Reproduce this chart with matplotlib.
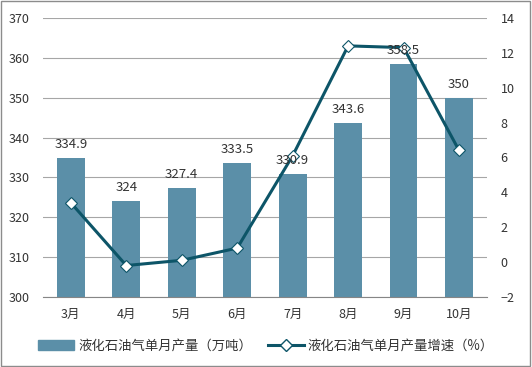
import matplotlib
matplotlib.use('Agg')
import matplotlib.pyplot as plt
import matplotlib.patches as mpatches
from matplotlib.lines import Line2D
import numpy as np

plt.rcParams['font.family'] = ['Noto Sans CJK SC', 'DejaVu Sans']

months = ['3月', '4月', '5月', '6月', '7月', '8月', '9月', '10月']
output = [334.9, 324, 327.4, 333.5, 330.9, 343.6, 358.5, 350]
growth = [3.4, -0.2, 0.1, 0.8, 6.1, 12.4, 12.3, 6.4]
bar_labels = ['334.9', '324', '327.4', '333.5', '330.9', '343.6', '358.5', '350']

bar_color = '#5b8fa8'
line_color = '#0d5568'
text_color = '#333333'

fig = plt.figure(figsize=(5.32, 3.67), dpi=100)
ax = fig.add_axes([0.081, 0.191, 0.834, 0.76])
x = np.arange(len(months))

ax.bar(x, output, width=0.5, color=bar_color, zorder=2)
ax.set_ylim(300, 370)
ax.set_yticks(range(300, 371, 10))
ax.set_xlim(-0.5, len(months) - 0.5)
ax.set_xticks(x)
ax.set_xticklabels(months)
ax.grid(axis='y', color='#a6a6a6', linewidth=0.8, zorder=0)
for s in ['top', 'left', 'right']:
    ax.spines[s].set_visible(False)
ax.spines['bottom'].set_color('#868686')
ax.tick_params(axis='both', length=0, labelsize=9, colors=text_color)
ax.tick_params(axis='x', pad=8)
ax.tick_params(axis='y', pad=10)

ax2 = ax.twinx()
ax2.plot(x, growth, color=line_color, linewidth=2.2, marker='D', markersize=6.5,
         markerfacecolor='white', markeredgecolor=line_color, markeredgewidth=0.8, zorder=4)
ax2.set_ylim(-2, 14)
ax2.set_yticks(range(-2, 15, 2))
for s in ['top', 'left', 'right', 'bottom']:
    ax2.spines[s].set_visible(False)
ax2.tick_params(axis='y', length=0, labelsize=9, colors=text_color, pad=10)

# bar value labels drawn on top of the line
for xi, v, lab in zip(x, output, bar_labels):
    ax2.text(xi, v + 1.8, lab, transform=ax.transData, ha='center', va='bottom',
             fontsize=9.5, color=text_color, zorder=6)

handles = [mpatches.Patch(color=bar_color),
           Line2D([0], [0], color=line_color, linewidth=2.2, marker='D', markersize=6,
                  markerfacecolor='white', markeredgecolor=line_color)]
fig.legend(handles, ['液化石油气单月产量（万吨）', '液化石油气单月产量增速（%）'],
           loc='center', bbox_to_anchor=(0.5, 0.058), ncol=2, frameon=False,
           fontsize=9.6, handlelength=2.7, columnspacing=1.2, handletextpad=0.3,
           labelcolor=text_color)

fig.patches.append(mpatches.Rectangle((0.002, 0.003), 0.995, 0.994, transform=fig.transFigure,
                                      fill=False, edgecolor='#8c8c8c', linewidth=1))

fig.savefig('out.png', dpi=100)
